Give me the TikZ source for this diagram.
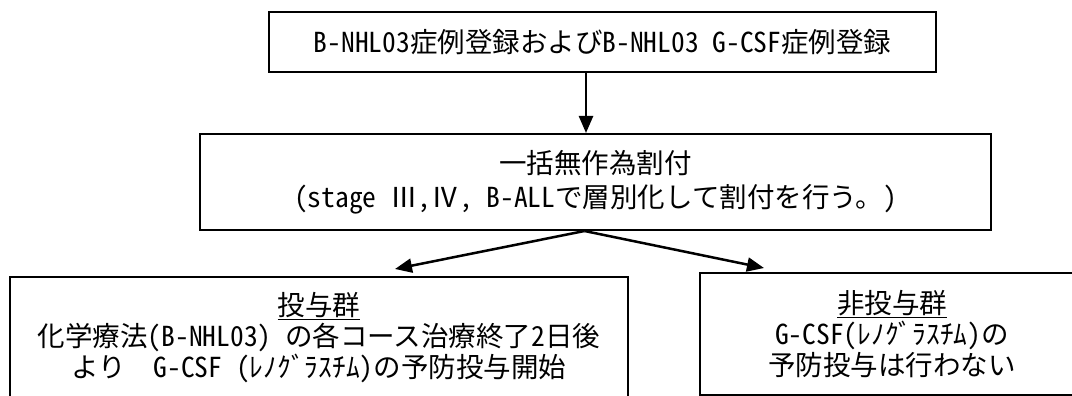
\documentclass[tikz,border=0pt]{standalone}
\usepackage{fontspec}
\setmainfont{Noto Sans CJK JP}[RawFeature=+hwid]
\usetikzlibrary{arrows.meta}
\begin{document}
\begin{tikzpicture}[x=1pt,y=-1pt,
  box/.style={draw, line width=2pt, inner sep=0pt, align=center,
    font=\fontsize{27.5}{31}\selectfont},
  arr/.style={line width=2.5pt, -{Triangle[length=17pt,width=14pt]}}]
\useasboundingbox (0,0) rectangle (1072,396);
\node[box, minimum width=667pt, minimum height=60pt] (reg) at (602.5,42)
  {B-NHL03症例登録およびB-NHL03 G-CSF症例登録};
\node[box, minimum width=791pt, minimum height=96pt,
  font=\fontsize{27.5}{34}\selectfont] (alloc) at (595.5,182)
  {一括無作為割付\\(stage Ⅲ,Ⅳ, B-ALLで層別化して割付を行う。)};
\node[box, minimum width=618pt, minimum height=121pt] (dose) at (319,337.5)
  {\underline{投与群}\\化学療法(B-NHL03) の各コース治療終了2日後\\より\quad G-CSF (ﾚﾉｸﾞﾗｽﾁﾑ)の予防投与開始};
\node[box, minimum width=384pt, minimum height=122pt] (nondose) at (892,334)
  {\underline{非投与群}\\G-CSF(ﾚﾉｸﾞﾗｽﾁﾑ)の\\予防投与は行わない};
\draw[arr] (reg.south -| 586,0) -- (alloc.north -| 586,0);
\draw[arr] ([shift={(-11,0)}]alloc.south) -- ([shift={(76,-7)}]dose.north);
\draw[arr] ([shift={(-11,0)}]alloc.south) -- ([shift={(-128,-4)}]nondose.north);
\end{tikzpicture}
\end{document}
